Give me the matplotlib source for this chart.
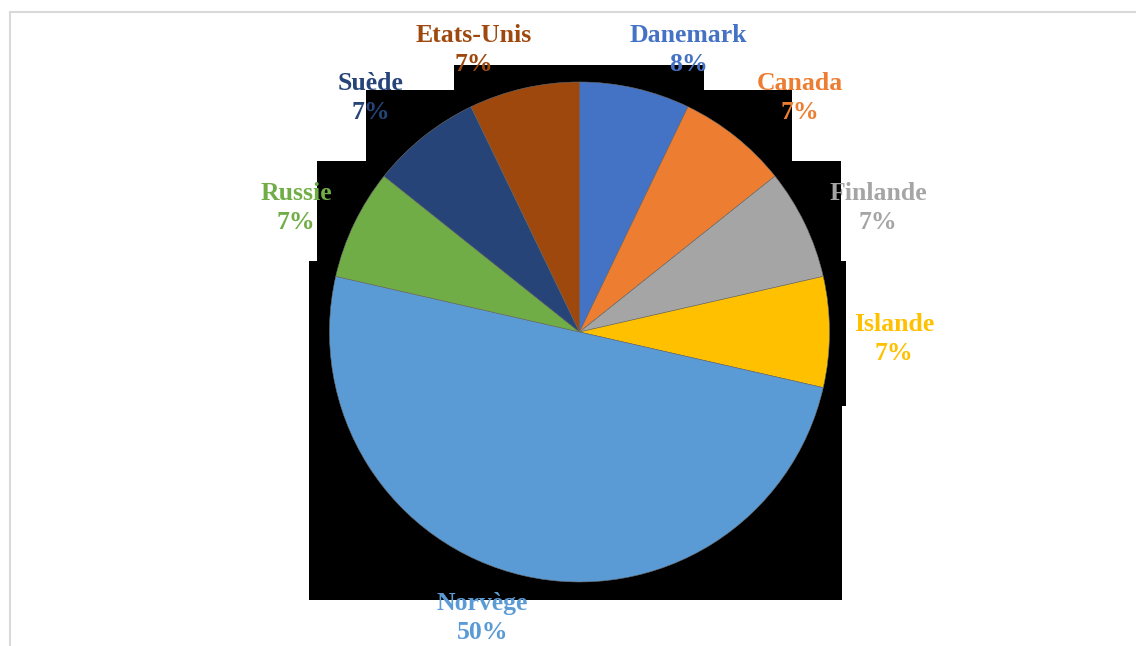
import numpy as np
import matplotlib
matplotlib.use("Agg")
import matplotlib.pyplot as plt
from matplotlib.patches import Rectangle
from matplotlib.lines import Line2D

# data, clockwise from 12 o'clock
countries = ["Danemark", "Canada", "Finlande", "Islande", "Norvège", "Russie", "Suède", "Etats-Unis"]
counts = [1, 1, 1, 1, 7, 1, 1, 1]
colors = ["#4472C4", "#ED7D31", "#A5A5A5", "#FFC000", "#5B9BD5", "#70AD47", "#264478", "#9E480E"]


def rounded_percents(vals):
    # round down, then give the missing points to the biggest remainders (like Excel)
    raw = np.array(vals, dtype=float) / sum(vals) * 100
    pct = np.floor(raw).astype(int)
    rest = raw - pct
    left = 100 - pct.sum()
    for i in np.argsort(-rest, kind="stable")[:left]:
        pct[i] += 1
    return pct


# layout in pixels of the 1136x646 picture
W, H = 1136, 646
cx, cy, R = 579.5, 332, 250


def to_data(x, y):
    return (x - cx) / R, (cy - y) / R


# label centres (px)
label_px = [(688.5, 50), (799.5, 98), (878, 208), (894, 339),
            (482.5, 618), (296, 208), (370.5, 98), (473.5, 50)]

# black blocks behind the pie (px: x0, y0, x1, y1)
black_px = [(454, 65, 704, 600), (366, 90, 792, 600), (317, 161, 841, 600),
            (309, 261, 846, 406), (309, 406, 842, 600)]

fig = plt.figure(figsize=(W / 100, H / 100), dpi=100)
ax = fig.add_axes([0, 0, 1, 1])

for x0, y0, x1, y1 in black_px:
    (a, b), (c, d) = to_data(x0, y1), to_data(x1, y0)
    ax.add_patch(Rectangle((a, b), c - a, d - b, facecolor="black", edgecolor="none", zorder=0))

ax.pie(counts, colors=colors, startangle=90, counterclock=False, radius=1,
       wedgeprops=dict(edgecolor="#6f6f6f", linewidth=0.4), normalize=True)

pcts = rounded_percents(counts)
for name, p, col, (lx, ly) in zip(countries, pcts, colors, label_px):
    x, y = to_data(lx, ly)
    ax.text(x, y, f"{name}\n{p}%", color=col, ha="center", va="center",
            fontsize=18.5, fontweight="bold", family="Liberation Serif",
            linespacing=1.38, zorder=5)

ax.set_xlim(-cx / R, (W - cx) / R)
ax.set_ylim(-(H - cy) / R, cy / R)
ax.set_aspect("equal")
ax.axis("off")

# chart area border (left and top only visible)
bx, by = 9.5 / W, 1 - 12 / H
fig.add_artist(Line2D([bx, bx], [0, by], color="#D9D9D9", linewidth=1.5))
fig.add_artist(Line2D([bx, 1], [by, by], color="#D9D9D9", linewidth=1.5))

fig.savefig("out.png", dpi=100, facecolor="white")
